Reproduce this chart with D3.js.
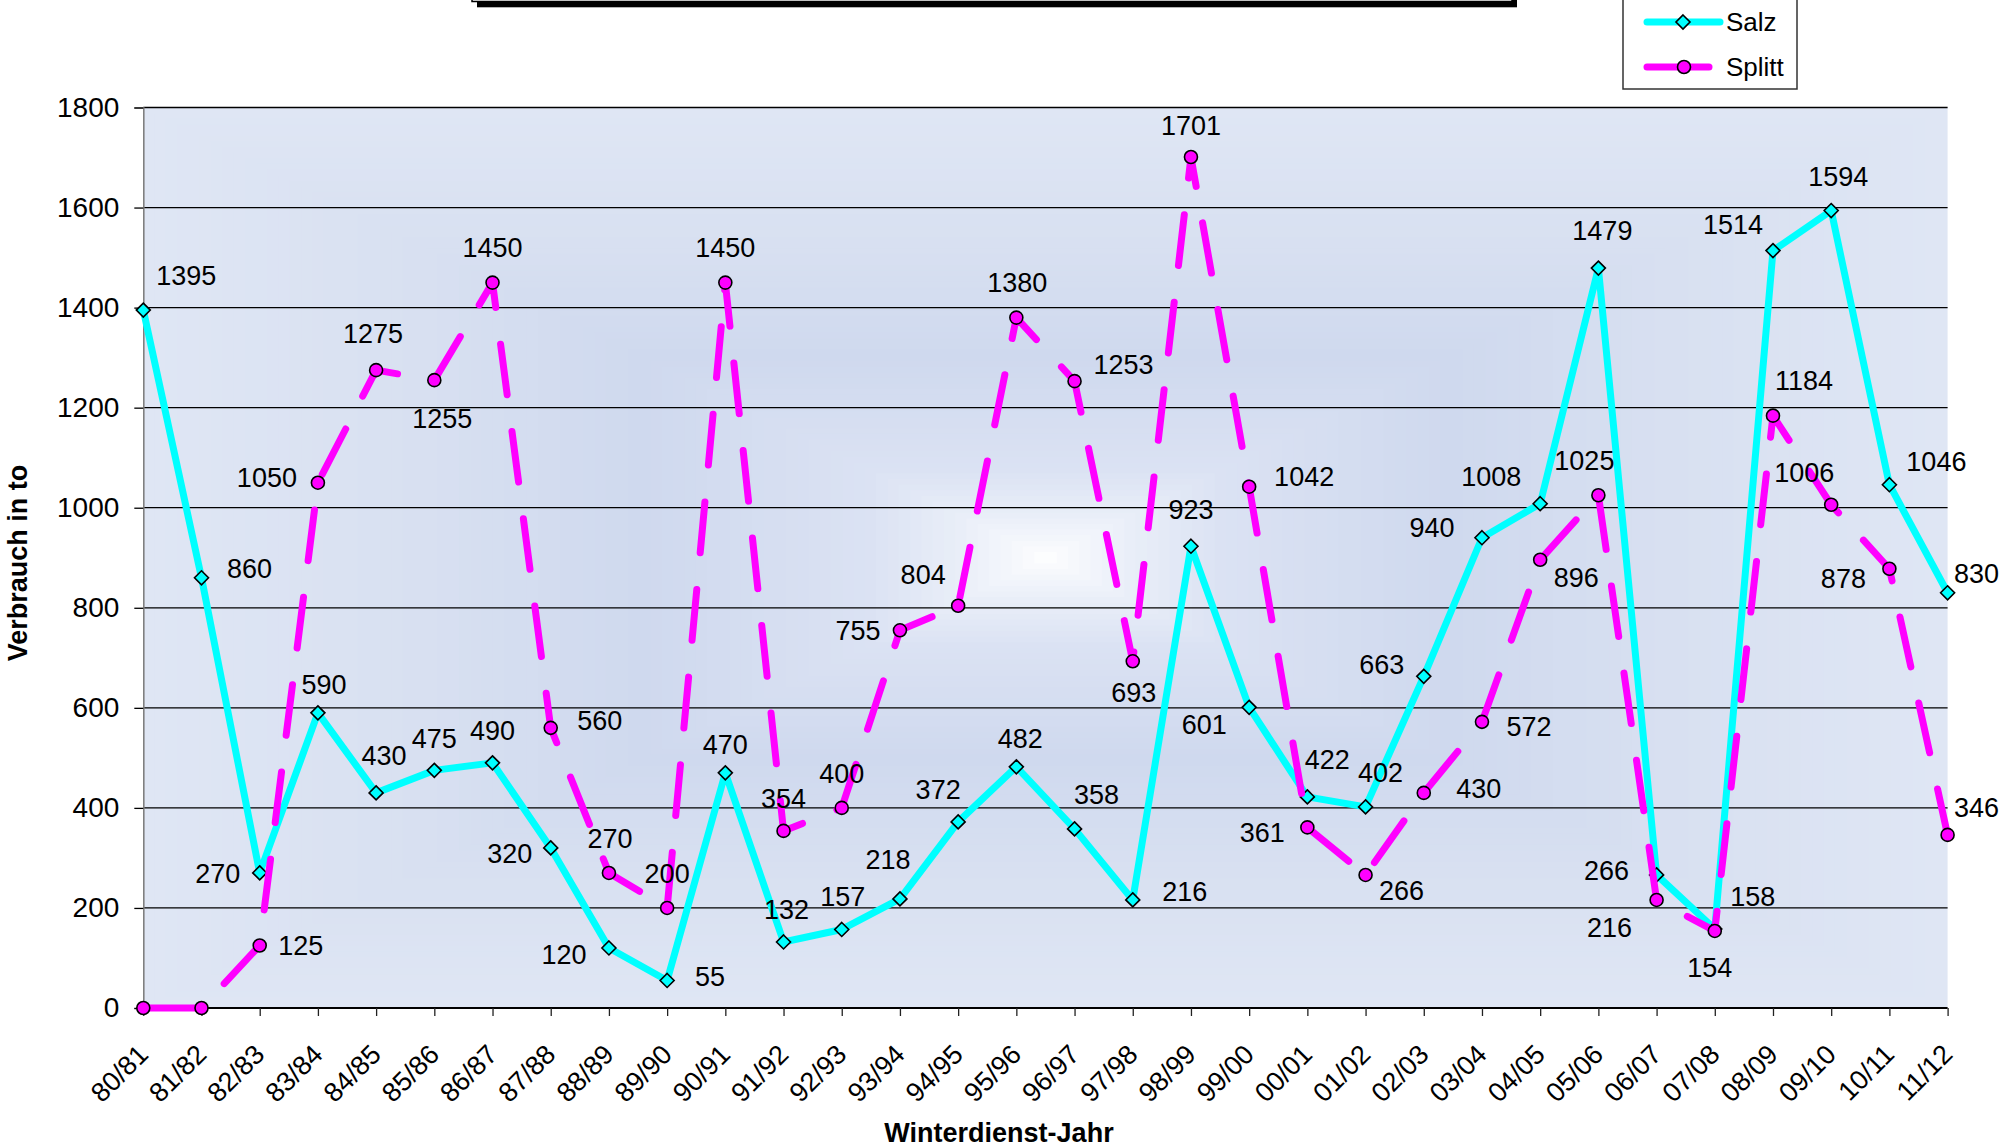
<!DOCTYPE html>
<html>
<head>
<meta charset="utf-8">
<script src="https://cdn.jsdelivr.net/npm/d3@7/dist/d3.min.js"></script>
<style>
  html, body { margin: 0; padding: 0; background: #ffffff; }
  svg { display: block; }
  text { font-family: "Liberation Sans", Arial, sans-serif; fill: #000; }
</style>
</head>
<body>
<svg id="chart" width="2006" height="1147"></svg>
<script>
// ---------- data ----------
const categories = ["80/81","81/82","82/83","83/84","84/85","85/86","86/87","87/88","88/89","89/90",
  "90/91","91/92","92/93","93/94","94/95","95/96","96/97","97/98","98/99","99/00",
  "00/01","01/02","02/03","03/04","04/05","05/06","06/07","07/08","08/09","09/10","10/11","11/12"];
const salz = [1395, 860, 270, 590, 430, 475, 490, 320, 120, 55,
  470, 132, 157, 218, 372, 482, 358, 216, 923, 601,
  422, 402, 663, 940, 1008, 1479, 266, 158, 1514, 1594, 1046, 830];
const splitt = [0, 0, 125, 1050, 1275, 1255, 1450, 560, 270, 200,
  1450, 354, 400, 755, 804, 1380, 1253, 693, 1701, 1042,
  361, 266, 430, 572, 896, 1025, 216, 154, 1184, 1006, 878, 346];
const yTickValues = [0, 200, 400, 600, 800, 1000, 1200, 1400, 1600, 1800];
const seriesNames = ["Salz", "Splitt"];

// label placement (pixel offsets from the point; layout only)
const salzLabelOffsets = [[43,-35],[48,-9],[-42,0],[6,-29],[8,-38],[0,-32],[0,-33],[-41,5],[-45,6],[43,-4],
  [0,-29],[3,-33],[1,-33],[-12,-40],[-20,-33],[4,-29],[22,-35],[52,-9],[0,-37],[-45,17],
  [20,-38],[15,-35],[-42,-12],[-50,-10],[-49,-27],[4,-38],[-50,-5],[38,-33],[-40,-26],[7,-34],[47,-23],[29,-19]];
const splittLabelOffsets = [null,null,[41,0],[-51,-5],[-3,-37],[8,38],[0,-35],[49,-8],[1,-35],[0,-35],
  [0,-35],[0,-33],[0,-35],[-42,0],[-35,-31],[1,-35],[49,-17],[1,31],[0,-32],[55,-10],
  [-45,5],[36,15],[55,-5],[47,4],[36,18],[-14,-35],[-47,27],[-5,36],[31,-35],[-27,-32],[-46,10],[29,-28]];

// ---------- layout ----------
const plot = { left: 143.3, right: 1947.6, top: 107.5, bottom: 1008 };
const svg = d3.select("#chart");

const x = d3.scalePoint().domain(categories).range([plot.left, plot.right]);
const y = d3.scaleLinear().domain([0, 1800]).range([plot.bottom, plot.top]);

// ---------- title box remnant (top) ----------
svg.append("rect").attr("x", 477).attr("y", -50).attr("width", 1040).attr("height", 57.3).attr("fill", "#000");
svg.append("rect").attr("x", 472).attr("y", -50).attr("width", 1040).attr("height", 51.5)
  .attr("fill", "#fff").attr("stroke", "#000").attr("stroke-width", 1.5);

// ---------- plot background: rectangular gradient from centre ----------
const W = plot.right - plot.left, H = plot.bottom - plot.top;
const bgColor = d3.scaleLinear()
  .domain([0, 0.3, 0.55, 0.8, 0.9, 0.96, 1])
  .range(["#dfe6f4", "#d8e0f1", "#cfd9ee", "#dbe2f3", "#e9eef8", "#f5f7fc", "#ffffff"])
  .interpolate(d3.interpolateRgb);
const N = 80;
const bands = d3.range(N);
svg.append("g").selectAll("rect").data(bands).join("rect")
  .attr("x", i => plot.left + (i / N) * W / 2)
  .attr("y", i => plot.top + (i / N) * H / 2)
  .attr("width", i => W * (1 - i / N))
  .attr("height", i => H * (1 - i / N))
  .attr("fill", i => bgColor(i / N));

// ---------- gridlines ----------
svg.append("g").selectAll("line").data(yTickValues.filter(v => v > 0)).join("line")
  .attr("x1", plot.left).attr("x2", plot.right)
  .attr("y1", d => y(d)).attr("y2", d => y(d))
  .attr("stroke", "#000").attr("stroke-width", 1.3);

// ---------- y axis ----------
const yAxis = d3.axisLeft(y).tickValues(yTickValues).tickSize(9).tickPadding(15).tickFormat(d3.format("d"));
const gy = svg.append("g").attr("transform", `translate(${plot.left},0)`).call(yAxis);
gy.select(".domain").attr("stroke", "#808080").attr("stroke-width", 1.6);
gy.selectAll(".tick line").attr("stroke", "#000").attr("stroke-width", 1.3);
gy.selectAll(".tick text").attr("font-size", 28).attr("fill", "#000")
  .attr("font-family", '"Liberation Sans", Arial, sans-serif');

// ---------- x axis ----------
const xAxis = d3.axisBottom(x).tickSize(8).tickFormat(d => d);
const gx = svg.append("g").attr("transform", `translate(0,${plot.bottom})`).call(xAxis);
gx.select(".domain").attr("stroke", "#000").attr("stroke-width", 2).attr("d", `M${plot.left},0H${plot.right}`);
gx.selectAll(".tick line").attr("stroke", "#222").attr("stroke-width", 1.3);
gx.selectAll(".tick text")
  .attr("font-size", 27)
  .attr("font-family", '"Liberation Sans", Arial, sans-serif')
  .attr("fill", "#000")
  .attr("text-anchor", "end")
  .attr("dy", 0)
  .attr("y", 0)
  .attr("transform", "translate(6,48) rotate(-45)");

// ---------- axis titles ----------
svg.append("text").attr("x", 999).attr("y", 1142).attr("text-anchor", "middle")
  .attr("font-size", 27).attr("font-weight", "bold").text("Winterdienst-Jahr");
svg.append("text").attr("transform", "translate(27,563) rotate(-90)").attr("text-anchor", "middle")
  .attr("font-size", 27).attr("font-weight", "bold").text("Verbrauch in to");

// ---------- series ----------
const line = d3.line().x((d, i) => x(categories[i])).y(d => y(d));

// Salz
svg.append("path").datum(salz).attr("d", line)
  .attr("fill", "none").attr("stroke", "#00ffff").attr("stroke-width", 7)
  .attr("stroke-linejoin", "round").attr("stroke-linecap", "round");
const diamond = s => `M0,${-s}L${s},0L0,${s}L${-s},0Z`;
svg.append("g").selectAll("path").data(salz).join("path")
  .attr("transform", (d, i) => `translate(${x(categories[i])},${y(d)})`)
  .attr("d", diamond(7))
  .attr("fill", "#00ffff").attr("stroke", "#000").attr("stroke-width", 1.6);

// Splitt
svg.append("path").datum(splitt).attr("d", line)
  .attr("fill", "none").attr("stroke", "#ff00ff").attr("stroke-width", 7)
  .attr("stroke-linejoin", "round").attr("stroke-linecap", "round")
  .attr("stroke-dasharray", "51,37").attr("stroke-dashoffset", -3.5);
svg.append("g").selectAll("circle").data(splitt).join("circle")
  .attr("cx", (d, i) => x(categories[i])).attr("cy", d => y(d)).attr("r", 6.5)
  .attr("fill", "#ff00ff").attr("stroke", "#000").attr("stroke-width", 1.6);

// ---------- data labels ----------
function labels(values, offsets) {
  svg.append("g").selectAll("text").data(values.map((v, i) => ({ v, i, o: offsets[i] })).filter(d => d.o))
    .join("text")
    .attr("x", d => x(categories[d.i]) + d.o[0])
    .attr("y", d => y(d.v) + d.o[1])
    .attr("dy", "0.36em")
    .attr("text-anchor", "middle")
    .attr("font-size", 27)
    .text(d => d.v);
}
labels(salz, salzLabelOffsets);
labels(splitt, splittLabelOffsets);

// ---------- legend ----------
const lg = svg.append("g");
lg.append("rect").attr("x", 1623).attr("y", -20).attr("width", 174).attr("height", 109)
  .attr("fill", "#fff").attr("stroke", "#333").attr("stroke-width", 1.5);
const legendRows = [
  { name: seriesNames[0], y: 22, x2: 1720 },
  { name: seriesNames[1], y: 67, x2: 1709 }
];
lg.append("line").attr("x1", 1647).attr("x2", legendRows[0].x2).attr("y1", 22).attr("y2", 22)
  .attr("stroke", "#00ffff").attr("stroke-width", 7).attr("stroke-linecap", "round");
lg.append("path").attr("transform", "translate(1683,22)").attr("d", diamond(7))
  .attr("fill", "#00ffff").attr("stroke", "#000").attr("stroke-width", 1.6);
lg.append("line").attr("x1", 1647).attr("x2", legendRows[1].x2).attr("y1", 67).attr("y2", 67)
  .attr("stroke", "#ff00ff").attr("stroke-width", 7).attr("stroke-linecap", "round");
lg.append("circle").attr("cx", 1684).attr("cy", 67).attr("r", 6.5)
  .attr("fill", "#ff00ff").attr("stroke", "#000").attr("stroke-width", 1.6);
lg.selectAll("text.lt").data(legendRows).join("text").attr("class", "lt")
  .attr("x", 1726).attr("y", d => d.y).attr("dy", "0.36em")
  .attr("font-size", 26).text(d => d.name);
</script>
</body>
</html>
